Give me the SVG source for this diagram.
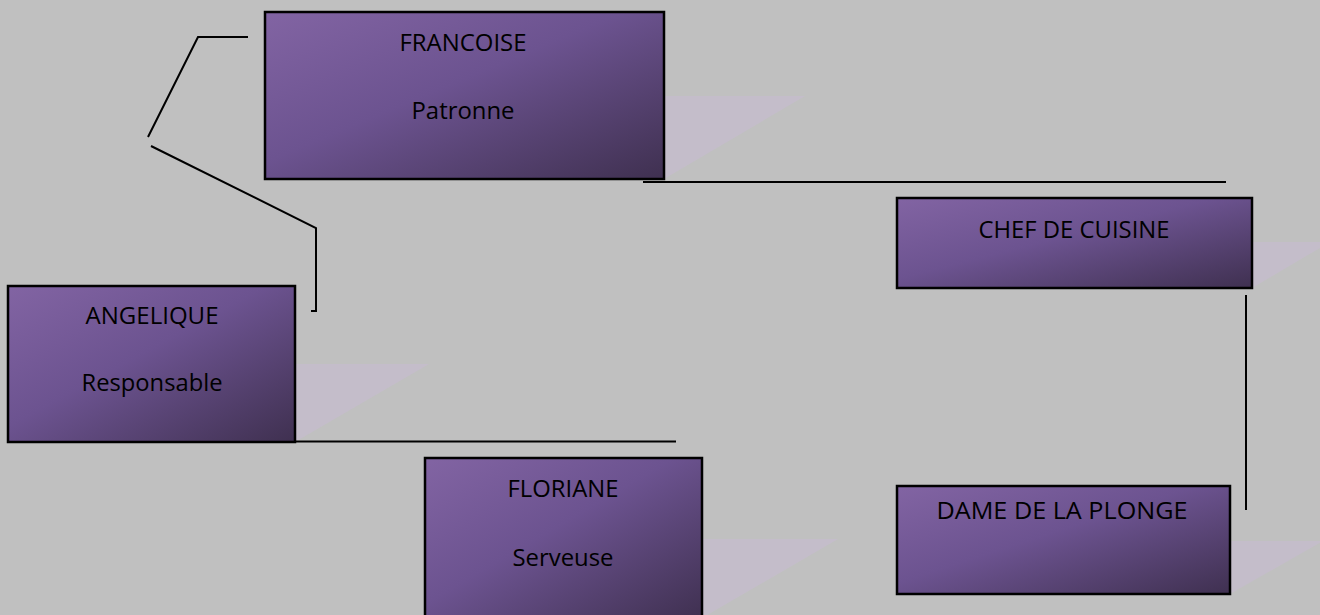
<svg xmlns="http://www.w3.org/2000/svg" width="1320" height="615" viewBox="0 0 1320 615">
<defs>
<linearGradient id="g" x1="0" y1="0" x2="1" y2="1">
<stop offset="0" stop-color="#8264a3"/>
<stop offset="0.45" stop-color="#6c5390"/>
<stop offset="1" stop-color="#3f3050"/>
</linearGradient>
<style>
.box{fill:url(#g);stroke:#000;stroke-width:2.5}
.sh{fill:#c4bdca}
.t{font-family:"Open Sans","Liberation Sans",sans-serif;font-size:24.5px;fill:#000;text-anchor:middle}
.c{fill:none;stroke:#000;stroke-width:2}
</style>
</defs>
<rect width="1320" height="615" fill="#c0c0c0"/>
<g id="shadows">
<polygon class="sh" points="664,96 805,96 664,179"/>
<polygon class="sh" points="295,364 429,364 295,442"/>
<polygon class="sh" points="702,539 838,539 702,618"/>
<polygon class="sh" points="1252,242 1330,242 1252,288"/>
<polygon class="sh" points="1230,541 1323,541 1230,594"/>
</g>
<g id="connectors">
<path class="c" d="M248,37 H198 L148,137"/>
<path class="c" d="M151,146 L316,228 V311 H311"/>
<path class="c" d="M643,182 H1226"/>
<path class="c" d="M212,441.5 H676"/>
<path class="c" d="M1246,295 V510"/>
</g>
<g id="francoise">
<rect class="box" x="265" y="12" width="399" height="167"/>
<text class="t" x="463" y="51" textLength="127" lengthAdjust="spacingAndGlyphs">FRANCOISE</text>
<text class="t" x="463" y="119" textLength="103" lengthAdjust="spacingAndGlyphs">Patronne</text>
</g>
<g id="angelique">
<rect class="box" x="8" y="286" width="287" height="156"/>
<text class="t" x="152" y="324" textLength="133" lengthAdjust="spacingAndGlyphs">ANGELIQUE</text>
<text class="t" x="152" y="391" textLength="141" lengthAdjust="spacingAndGlyphs">Responsable</text>
</g>
<g id="floriane">
<rect class="box" x="425" y="458" width="277" height="162"/>
<text class="t" x="563" y="497" textLength="111" lengthAdjust="spacingAndGlyphs">FLORIANE</text>
<text class="t" x="563" y="566" textLength="101" lengthAdjust="spacingAndGlyphs">Serveuse</text>
</g>
<g id="chef">
<rect class="box" x="897" y="198" width="355" height="90"/>
<text class="t" x="1074" y="238" textLength="191" lengthAdjust="spacingAndGlyphs">CHEF DE CUISINE</text>
</g>
<g id="dame">
<rect class="box" x="897" y="486" width="333" height="108"/>
<text class="t" x="1062" y="519" textLength="251" lengthAdjust="spacingAndGlyphs">DAME DE LA PLONGE</text>
</g>
</svg>
